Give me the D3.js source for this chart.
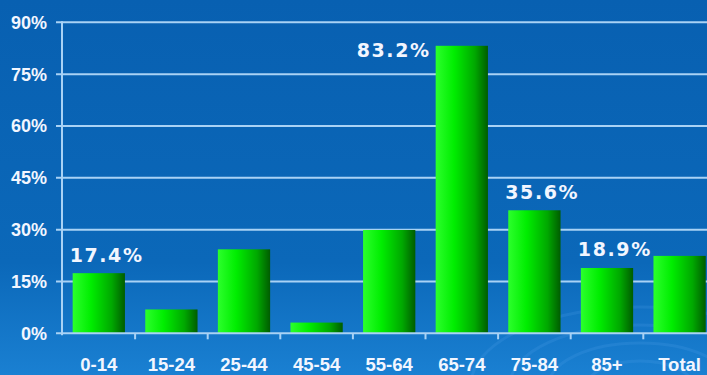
<!DOCTYPE html>
<html><head><meta charset="utf-8">
<script src="https://cdn.jsdelivr.net/npm/d3@7/dist/d3.min.js"></script>
<style>html,body{margin:0;padding:0;overflow:hidden;background:#0a64b4}</style>
</head><body>
<svg id="c" width="707" height="375"></svg>
<script>
const categories = ["0-14","15-24","25-44","45-54","55-64","65-74","75-84","85+","Total"];
const values = [17.4, 6.9, 24.3, 3.1, 29.9, 83.2, 35.6, 18.9, 22.4];
const shownLabels = ["17.4%", null, null, null, null, "83.2%", "35.6%", "18.9%", null];
const yTicks = [0, 15, 30, 45, 60, 75, 90];

const svg = d3.select("#c");
const W = 707, H = 375;
const defs = svg.append("defs");
const bg = defs.append("linearGradient").attr("id","bg").attr("x1",0).attr("y1",0).attr("x2",0).attr("y2",1);
bg.append("stop").attr("offset","0%").attr("stop-color","#0860b1");
bg.append("stop").attr("offset","70%").attr("stop-color","#0b68b9");
bg.append("stop").attr("offset","100%").attr("stop-color","#1a80d2");
const bar = defs.append("linearGradient").attr("id","bar").attr("x1",0).attr("y1",0).attr("x2",1).attr("y2",0);
bar.append("stop").attr("offset","0%").attr("stop-color","#2cff2c");
bar.append("stop").attr("offset","35%").attr("stop-color","#00ee00");
bar.append("stop").attr("offset","75%").attr("stop-color","#00a800");
bar.append("stop").attr("offset","100%").attr("stop-color","#005c00");

svg.append("rect").attr("width",W).attr("height",H).attr("fill","url(#bg)");
const wm = svg.append("g").attr("fill","none").attr("stroke","#5aa8ee").attr("stroke-opacity",0.18);
[40,70,100,130].forEach(r => wm.append("ellipse").attr("cx",640).attr("cy",385).attr("rx",r*1.3).attr("ry",r*0.6).attr("stroke-width",3));

const x = d3.scaleBand().domain(categories).range([62.5, 62.5 + 9*72.6]).paddingInner(0.28).paddingOuter(0.14);
const y = d3.scaleLinear().domain([0, 90]).range([333.3, 22.3]);

const gridColor = "#a9d2f5";
svg.append("g").selectAll("line").data(yTicks.filter(d=>d>0)).join("line")
  .attr("x1",56).attr("x2",W).attr("y1",d=>y(d)).attr("y2",d=>y(d))
  .attr("stroke",gridColor).attr("stroke-width",2);

svg.append("g").selectAll("rect").data(values).join("rect")
  .attr("x",(d,i)=>x(categories[i])).attr("width",x.bandwidth())
  .attr("y",d=>y(d)).attr("height",d=>y(0)-y(d))
  .attr("fill","url(#bar)");

svg.append("line").attr("x1",62).attr("x2",62).attr("y1",y(90)-1).attr("y2",y(0)+2)
  .attr("stroke",gridColor).attr("stroke-width",2);
svg.append("line").attr("x1",56).attr("x2",W).attr("y1",y(0)).attr("y2",y(0))
  .attr("stroke",gridColor).attr("stroke-width",2);
const step = x.step();
const bounds = categories.map((c,i)=> 62.5 + step*(i+1));
svg.append("g").selectAll("line").data(bounds).join("line")
  .attr("x1",d=>d).attr("x2",d=>d).attr("y1",y(0)).attr("y2",y(0)+6)
  .attr("stroke",gridColor).attr("stroke-width",2);

svg.append("g").selectAll("text").data(yTicks).join("text")
  .attr("x",47).attr("y",d=>y(d)+6.5).attr("text-anchor","end")
  .attr("font-family","Liberation Sans, Arial, sans-serif").attr("font-weight","bold")
  .attr("font-size",18).attr("fill","#f2f6ff").text(d=>d+"%");

svg.append("g").selectAll("text").data(categories).join("text")
  .attr("x",d=>x(d)+x.bandwidth()/2).attr("y",371).attr("text-anchor","middle")
  .attr("font-family","Liberation Sans, Arial, sans-serif").attr("font-weight","bold")
  .attr("font-size",18.5).attr("fill","#f2f6ff").text(d=>d);

const lab = svg.append("g").attr("font-family","DejaVu Sans, Verdana, sans-serif")
  .attr("font-weight","bold").attr("font-size",19).attr("fill","#f2f6ff").attr("letter-spacing","1.6px");
values.forEach((v,i)=>{
  const t = shownLabels[i];
  if (!t) return;
  const bx = x(categories[i]);
  if (v > 80) {
    lab.append("text").attr("x",bx-5).attr("y",y(v)+11.5).attr("text-anchor","end").text(t);
  } else {
    lab.append("text").attr("x",bx-3).attr("y",y(v)-11.5).attr("text-anchor","start").text(t);
  }
});
</script>
</body></html>
